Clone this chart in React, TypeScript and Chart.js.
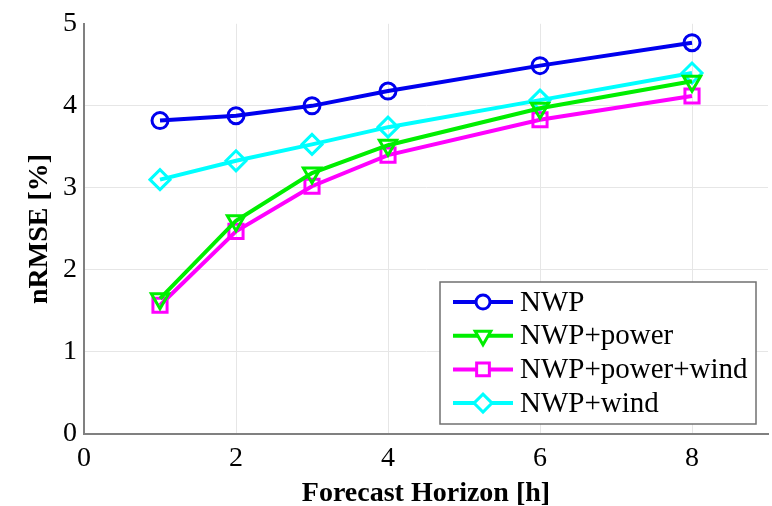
import React, { useEffect, useRef } from "react";
import { Chart, registerables } from "chart.js";
import { drawPoint } from "chart.js/helpers";

Chart.register(...registerables);

const horizons = [1, 2, 3, 4, 6, 8];
const nwp = [3.82, 3.88, 4.0, 4.18, 4.49, 4.77];
const nwpPower = [1.65, 2.6, 3.18, 3.52, 3.97, 4.3];
const nwpPowerWind = [1.57, 2.47, 3.02, 3.4, 3.83, 4.12];
const nwpWind = [3.1, 3.33, 3.53, 3.74, 4.07, 4.4];
const seriesNames = ["NWP", "NWP+power", "NWP+power+wind", "NWP+wind"];
const xTitle = "Forecast Horizon [h]";
const yTitle = "nRMSE [%]";

const FONT = "'Liberation Serif', 'Times New Roman', serif";

const legendPlugin = {
  id: "insideLegend",
  afterDraw(chart: any) {
    const ctx = chart.ctx;
    const x0 = 440, y0 = 282, w = 316, h = 142;
    ctx.save();
    ctx.fillStyle = "#ffffff";
    ctx.fillRect(x0, y0, w, h);
    ctx.strokeStyle = "#707070";
    ctx.lineWidth = 1.5;
    ctx.strokeRect(x0, y0, w, h);
    ctx.textBaseline = "middle";
    chart.data.datasets.forEach((ds: any, i: number) => {
      const y = 302 + i * 33.7;
      ctx.strokeStyle = ds.borderColor;
      ctx.lineWidth = 4;
      ctx.beginPath();
      ctx.moveTo(453, y);
      ctx.lineTo(513, y);
      ctx.stroke();
      ctx.lineWidth = 3;
      ctx.fillStyle = "#ffffff";
      drawPoint(ctx, {
        pointStyle: ds.pointStyle,
        rotation: ds.pointRotation || 0,
        borderWidth: 3,
        radius: ds.pointRadius - 1,
      } as any, 483, y);
      ctx.fillStyle = "#000000";
      ctx.font = `29px ${FONT}`;
      ctx.fillText(seriesNames[i], 520, y + 1);
    });
    ctx.restore();
  },
};

function mk(label: string, values: number[], color: string, style: string, radius: number, rot = 0) {
  return {
    label,
    data: horizons.map((x, i) => ({ x, y: values[i] })),
    borderColor: color,
    backgroundColor: "rgba(255,255,255,0)",
    borderWidth: 4,
    pointStyle: style,
    pointRotation: rot,
    pointRadius: radius,
    pointBorderWidth: 3,
    pointBorderColor: color,
    pointBackgroundColor: "rgba(255,255,255,0)",
    tension: 0,
  };
}

export default function App() {
  const ref = useRef<HTMLCanvasElement>(null);
  useEffect(() => {
    document.body.style.margin = "0";
    const chart = new Chart(ref.current!, {
      type: "line",
      data: {
        datasets: [
          mk(seriesNames[0], nwp, "#0000ee", "circle", 8),
          mk(seriesNames[1], nwpPower, "#00ee00", "triangle", 10, 180),
          mk(seriesNames[2], nwpPowerWind, "#ff00ff", "rect", 10),
          mk(seriesNames[3], nwpWind, "#00ffff", "rectRot", 10),
        ] as any,
      },
      options: {
        animation: false,
        responsive: false,
        devicePixelRatio: 1,
        layout: { autoPadding: false, padding: { top: 20, right: 4, left: 0, bottom: 0 } },
        plugins: { legend: { display: false }, tooltip: { enabled: false } },
        scales: {
          x: {
            type: "linear",
            min: 0,
            max: 9,
            ticks: {
              stepSize: 2,
              color: "#000",
              font: { family: FONT, size: 28 },
              padding: 8,
              callback: (v: any) => (v % 2 === 0 && v <= 8 ? String(v) : ""),
            },
            grid: {
              color: (c: any) =>
                c.tick && (c.tick.value === 0 || c.tick.value === 9) ? "rgba(0,0,0,0)" : "#e6e6e6",
              lineWidth: 1,
              tickLength: 0,
            },
            border: { display: true, color: "#808080", width: 2, dash: [] },
            title: {
              display: true,
              text: xTitle,
              color: "#000",
              font: { family: FONT, size: 28, weight: "bold", lineHeight: 0.9 },
              padding: { top: 0, bottom: 0 },
            },
            afterFit: (s: any) => {
              s.height = 72;
              s.paddingRight = 0;
              s.paddingLeft = 0;
            },
          },
          y: {
            min: 0,
            max: 5,
            ticks: {
              stepSize: 1,
              color: "#000",
              font: { family: FONT, size: 28 },
              padding: 7,
            },
            grid: {
              color: (c: any) =>
                c.tick && (c.tick.value === 0 || c.tick.value === 5) ? "rgba(0,0,0,0)" : "#e6e6e6",
              lineWidth: 1,
              tickLength: 0,
            },
            border: { display: true, color: "#808080", width: 2 },
            title: {
              display: true,
              text: yTitle,
              color: "#000",
              font: { family: FONT, size: 28, weight: "bold" },
              padding: { top: 23, bottom: 0 },
            },
            afterFit: (s: any) => {
              s.width = 84;
            },
          },
        },
      },
      plugins: [legendPlugin],
    });
    return () => chart.destroy();
  }, []);
  return (
    <div style={{ position: "absolute", left: 0, top: 0, width: 772, height: 506, background: "#fff" }}>
      <canvas ref={ref} width={772} height={506} style={{ width: 772, height: 506 }} />
    </div>
  );
}
